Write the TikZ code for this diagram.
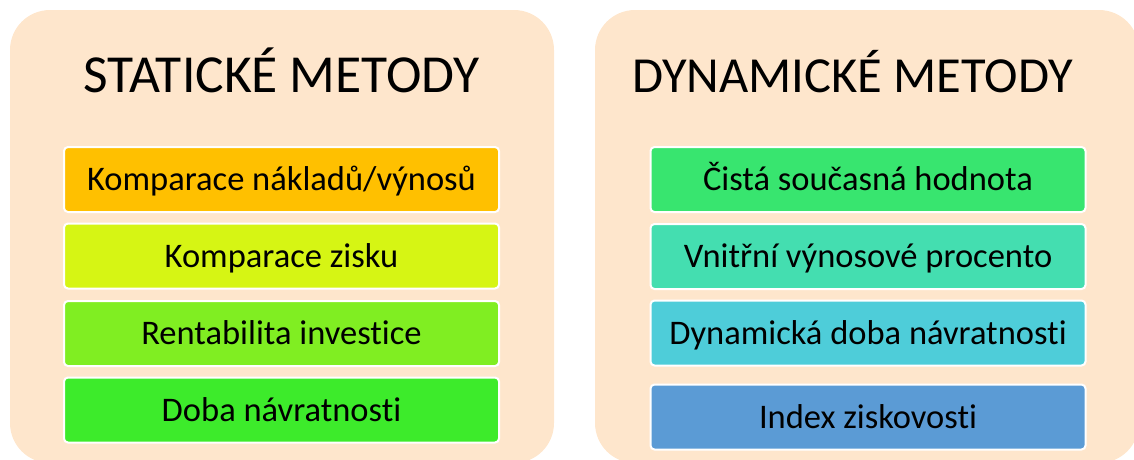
\documentclass[tikz,border=0pt]{standalone}
\usepackage{fontspec}
\setmainfont[Ligatures=NoCommon]{Carlito}
\usepackage{tikz}
\usetikzlibrary{calc,positioning}

\definecolor{peach}{HTML}{FEE6CC}
\definecolor{cOrange}{HTML}{FFC000}
\definecolor{cLime}{HTML}{D6F514}
\definecolor{cGrass}{HTML}{80EE22}
\definecolor{cGreen}{HTML}{3DEB2B}
\definecolor{cEmerald}{HTML}{38E56F}
\definecolor{cTeal}{HTML}{44DEB0}
\definecolor{cCyan}{HTML}{4ECDD9}
\definecolor{cBlue}{HTML}{5B9BD5}

\tikzset{
  panel/.style={fill=peach, rounded corners=40pt},
  title/.style={text height=33.5pt, text depth=0pt, inner sep=0pt},
  method/.style={draw=white, line width=2pt, rounded corners=4pt,
    minimum width=435pt, minimum height=65pt, inner sep=0pt,
    font=\fontsize{34.5}{37}\selectfont, text height=22pt, text depth=0pt}
}

\begin{document}
\begin{tikzpicture}[x=1pt,y=-1pt]

\useasboundingbox (0,0) rectangle (1134,459);
\clip (0,0) rectangle (1134,459);

% panels
\fill[panel] (10,10) rectangle (554,463);
\fill[panel] (595,10) rectangle (1139,463);

% static methods
\node[title, font=\fontsize{53.5}{57}\selectfont] (statTitle) at (281.5,75.5) {STATICKÉ METODY};
\node[method, fill=cOrange] (stat1) at (281.5,179.5) {Komparace nákladů/výnosů};
\node[method, fill=cLime]   (stat2) at (281.5,256)   {Komparace zisku};
\node[method, fill=cGrass]  (stat3) at (281.5,333.5) {Rentabilita investice};
\node[method, fill=cGreen]  (stat4) at (281.5,410)   {Doba návratnosti};

% dynamic methods
\node[title, font=\fontsize{50.5}{54}\selectfont] (dynTitle) at (852.5,75.5) {DYNAMICKÉ METODY};
\node[method, fill=cEmerald] (dyn1) at (868,179.5) {Čistá současná hodnota};
\node[method, fill=cTeal]    (dyn2) at (868,256.5) {Vnitřní výnosové procento};
\node[method, fill=cCyan]    (dyn3) at (868,333)   {Dynamická doba návratnosti};
\node[method, fill=cBlue]    (dyn4) at (868,417)   {Index ziskovosti};

\end{tikzpicture}
\end{document}
